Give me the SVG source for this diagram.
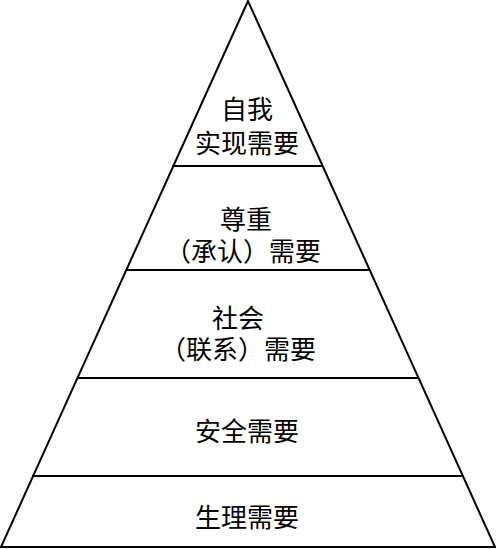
<svg xmlns="http://www.w3.org/2000/svg" width="496" height="549" viewBox="0 0 496 549">
<style>
.ln{stroke:#000;stroke-width:2;fill:none}
.t{font-family:"Liberation Serif","Noto Sans CJK SC",serif;font-size:26px;fill:#000;text-anchor:middle}
</style>
<rect width="496" height="549" fill="#fff"/>
<g id="pyramid">
<polygon class="ln" points="248,1 1,547 495,547"/>
</g>
<g id="connectors">
<line class="ln" x1="172" y1="166" x2="323" y2="166"/>
<line class="ln" x1="126" y1="270" x2="370" y2="270"/>
<line class="ln" x1="77" y1="378" x2="419" y2="378"/>
<line class="ln" x1="32" y1="476" x2="463" y2="476"/>
</g>
<g id="level5"><text class="t" x="247" y="119">自我</text><text class="t" x="247" y="153">实现需要</text></g>
<g id="level4"><text class="t" x="246" y="229">尊重</text><text class="t" x="243" y="261">（承认）需要</text></g>
<g id="level3"><text class="t" x="238" y="328">社会</text><text class="t" x="238" y="359">（联系）需要</text></g>
<g id="level2"><text class="t" x="247" y="441">安全需要</text></g>
<g id="level1"><text class="t" x="247" y="527">生理需要</text></g>
</svg>
